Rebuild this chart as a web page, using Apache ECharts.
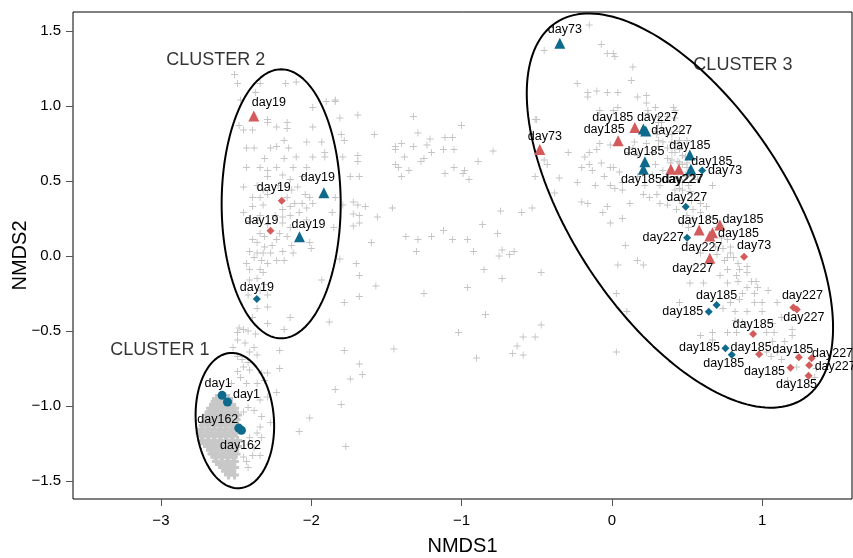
<!DOCTYPE html>
<html><head><meta charset="utf-8">
<script src="https://cdn.jsdelivr.net/npm/echarts@6/dist/echarts.min.js"></script>
<style>html,body{margin:0;padding:0;background:#fff}#c{width:853px;height:558px}</style>
</head><body><div id="c"></div>
<script>
const xTicks = [-3, -2, -1, 0, 1];
const yTicks = [-1.5, -1, -0.5, 0, 0.5, 1, 1.5];

// grey "+" background samples [NMDS1, NMDS2]
const greyPoints = [
[-1.84,1.04],[-1.81,0.92],[-1.69,0.94],[-1.80,0.81],[-1.78,0.77],[-1.58,0.81],[-1.32,0.93],[-1.29,0.82],[-1.44,0.73],[-1.40,0.75],[-1.44,0.71],[-1.38,0.66],[-1.32,0.73],[-1.23,0.74],[-1.21,0.78],[-1.11,0.79],[-1.06,0.79],[-1.00,0.87],[-1.20,0.69],[-1.25,0.65],[-1.27,0.63],[-1.12,0.71],[-1.05,0.71],[-0.79,0.70],[-0.89,0.63],[-1.44,0.61],[-1.42,0.59],[-1.35,0.57],[-1.40,0.53],[-1.05,0.59],[-1.11,0.55],[-0.99,0.55],[-0.98,0.57],[-0.95,0.51],[-1.69,0.67],[-1.69,0.63],[-1.79,0.66],[-1.74,0.53],[-1.68,0.53],[-1.84,0.39],[-1.72,0.36],[-1.64,0.33],[-1.46,0.32],[-1.72,0.28],[-1.68,0.27],[-1.56,0.26],[-1.68,0.22],[-1.72,0.20],[-1.85,0.19],[-1.86,0.29],[-0.74,0.30],[-0.60,0.29],[-0.53,0.32],[-0.86,0.21],[-0.76,0.15],[-1.12,0.17],[-1.37,0.13],[-1.29,0.11],[-1.20,0.13],[-1.06,0.11],[-0.96,0.11],[-1.60,0.09],[-1.30,0.03],[-0.92,0.03],[-0.73,0.04],[-0.75,0.00],[-0.68,0.01],[-0.65,0.03],[-0.85,-0.09],[-0.47,-0.11],[-0.73,-0.15],[-1.70,-0.05],[-1.68,-0.13],[-1.81,-0.02],[-1.57,-0.20],[-1.68,-0.27],[-1.25,-0.25],[-0.96,-0.21],[-1.78,-0.31],[-0.84,-0.39],[-0.47,-0.46],[-0.59,-0.54],[-0.51,-0.54],[-0.63,-0.60],[-0.66,-0.65],[-0.59,-0.66],[-1.02,-0.51],[-1.45,-0.62],[-1.78,-0.63],[-0.90,-0.68],[-0.51,0.91],[-0.50,0.91],[-0.45,0.64],
[-2.51,1.21],[-2.49,1.15],[-2.34,1.15],[-2.17,1.15],[-2.10,1.16],[-2.47,1.04],[-2.37,1.09],[-1.99,0.99],[-1.90,1.03],[-1.84,1.03],[-2.29,0.91],[-2.29,0.89],[-2.48,0.87],[-2.45,0.84],[-2.39,0.84],[-2.23,0.86],[-2.16,0.89],[-2.16,0.85],[-1.99,0.86],[-2.43,0.72],[-2.38,0.72],[-2.23,0.73],[-2.15,0.72],[-2.27,0.72],[-2.18,0.77],[-2.03,0.76],[-1.93,0.76],[-2.31,0.65],[-2.18,0.65],[-2.10,0.66],[-1.99,0.66],[-1.91,0.69],[-1.91,0.66],[-2.43,0.59],[-2.34,0.59],[-2.29,0.57],[-2.23,0.59],[-2.12,0.59],[-2.03,0.59],[-2.29,0.53],[-2.19,0.54],[-2.14,0.51],[-2.06,0.53],[-2.45,0.46],[-2.36,0.47],[-2.32,0.44],[-2.22,0.47],[-2.13,0.44],[-2.09,0.46],[-2.04,0.41],[-2.01,0.39],[-2.39,0.39],[-2.34,0.39],[-2.29,0.41],[-2.16,0.39],[-2.11,0.35],[-2.06,0.35],[-2.39,0.33],[-2.32,0.34],[-2.19,0.31],[-2.14,0.33],[-2.03,0.32],[-1.99,0.35],[-1.69,0.34],[-2.45,0.29],[-2.34,0.27],[-2.24,0.27],[-2.19,0.26],[-2.14,0.27],[-2.08,0.29],[-2.41,0.23],[-2.36,0.24],[-2.29,0.21],[-2.19,0.22],[-2.14,0.19],[-2.34,0.15],[-2.31,0.13],[-2.21,0.15],[-2.16,0.13],[-2.23,0.11],[-2.39,0.11],[-2.36,0.09],[-2.31,0.06],[-2.26,0.07],[-2.13,0.07],[-2.01,0.09],[-2.00,0.05],[-2.41,0.03],[-2.36,0.02],[-2.32,0.02],[-2.27,0.02],[-2.19,0.03],[-2.12,0.02],[-2.38,-0.01],[-2.33,-0.03],[-2.29,-0.05],[-2.23,-0.03],[-2.18,-0.03],[-2.43,-0.05],[-2.41,-0.09],[-2.34,-0.09],[-2.32,-0.11],[-2.36,-0.15],[-2.41,-0.16],[-2.31,-0.19],[-2.34,-0.23],[-2.42,-0.26],[-2.29,-0.26],[-2.29,-0.34],[-2.36,-0.35],[-2.39,-0.41],[-2.29,-0.45],[-2.14,-0.41],[-1.93,-0.16],[-2.48,-0.48],[-2.45,-0.49],[-2.42,-0.50],[-2.49,-0.51],[-2.37,-0.52],[-2.18,-0.49],[-1.88,-0.44],[-1.79,0.34],[-2.03,0.24],
[-2.52,-0.61],[-2.49,-0.56],[-2.44,-0.58],[-2.41,-0.64],[-2.38,-0.61],[-2.21,-0.63],[-2.49,-0.67],[-2.46,-0.69],[-2.42,-0.71],[-2.36,-0.66],[-2.45,-0.74],[-2.41,-0.76],[-2.33,-0.78],[-2.29,-0.78],[-2.21,-0.75],[-2.49,-0.77],[-2.47,-0.81],[-2.53,-0.85],[-2.43,-0.85],[-2.36,-0.85],[-2.31,-0.83],[-2.23,-0.91],[-2.29,-0.94],[-2.34,-0.96],[-2.38,-1.03],[-2.42,-1.01],[-2.45,-1.04],[-2.33,-1.07],[-2.27,-1.11],[-2.34,-1.14],[-2.36,-1.18],[-2.33,-1.21],[-2.41,-1.21],[-2.38,-1.28],[-2.39,-1.33],[-2.34,-1.33],[-2.45,-1.34],[-2.43,-1.37],[-2.42,-1.41],[-1.68,-0.72],[-1.66,-0.79],[-1.74,-0.82],[-1.84,-0.89],[-1.80,-0.99],[-2.01,-1.08],[-2.08,-1.17],[-1.77,-1.27],
[-0.15,1.54],[-0.45,1.37],[-0.07,1.41],[-0.03,1.35],[0.01,1.35],[0.02,1.33],[0.14,1.26],[0.13,1.17],[-0.23,1.15],[-0.16,1.09],[-0.10,1.10],[-0.03,1.09],[0.04,1.09],[-0.16,1.06],[0.17,1.06],[0.23,1.07],[0.23,1.02],[-0.08,0.97],[0.01,0.97],[0.04,0.99],[0.24,0.97],[0.41,0.99],[0.42,0.92],[0.31,0.89],[0.33,0.85],[0.30,0.81],[0.37,0.81],[0.45,0.83],[0.31,0.77],[0.40,0.76],[0.44,0.75],[0.50,0.77],[0.37,0.72],[0.42,0.69],[0.47,0.67],[0.37,0.65],[0.39,0.62],[0.45,0.62],[0.50,0.62],[0.34,0.57],[0.29,0.61],[0.15,0.76],[0.23,0.75],[0.14,0.72],[0.11,0.69],[0.17,0.67],[0.27,0.69],[-0.01,0.74],[-0.08,0.75],[-0.10,0.71],[-0.15,0.69],[-0.29,0.69],[-0.18,0.66],[-0.07,0.62],[-0.15,0.61],[-0.20,0.59],[-0.01,0.59],[-0.13,0.57],[-0.05,0.53],[-0.43,0.61],[-0.51,0.53],[-0.35,0.52],[-0.23,0.49],[-0.11,0.47],[-0.01,0.47],[0.07,0.49],[0.22,0.47],[0.32,0.47],[0.21,0.41],[0.30,0.41],[0.42,0.44],[0.45,0.45],[-0.38,0.42],[-0.20,0.36],[-0.16,0.35],[0.12,0.35],[0.32,0.35],
[0.29,0.99],[0.24,0.95],[0.42,0.97],[0.31,0.93],[0.37,0.93],[0.33,0.89],[0.29,0.83],[0.40,0.81],[0.34,0.76],[0.45,0.77],[0.31,0.73],[0.40,0.69],[0.45,0.71],[0.49,0.66],[0.40,0.64],[0.44,0.63],[0.47,0.61],[0.50,0.59],[0.01,0.59],[0.05,0.56],[0.02,0.45],[0.07,0.44],[0.17,0.53],[0.27,0.54],[0.44,0.52],[0.49,0.54],[0.54,0.54],[0.47,0.49],[0.51,0.47],[0.57,0.51],[0.67,0.47],[0.47,0.44],[0.52,0.43],[0.25,0.39],[0.37,0.34],[0.45,0.37],[0.53,0.37],[0.59,0.35],[0.63,0.33],[0.43,0.31],[0.54,0.31],[0.59,0.29],[0.50,0.27],[0.54,0.25],[0.65,0.26],[-0.03,0.33],[-0.06,0.29],[0.07,0.25],[0.47,0.22],[0.51,0.19],[0.70,0.19],[0.73,0.12],[0.77,0.11],[0.79,0.06],[0.74,0.05],[0.69,0.06],[0.59,0.02],[0.70,0.01],[0.79,0.02],[0.81,-0.01],[0.75,-0.03],[0.84,-0.05],[0.90,-0.07],[0.85,-0.09],[0.90,-0.11],[0.83,-0.13],[0.77,-0.09],[0.09,0.07],[0.17,-0.03],[0.21,-0.06],[0.52,-0.18],[0.72,-0.13],[0.96,-0.17],[1.04,-0.23],[0.87,-0.25],[0.95,-0.25],[0.03,-0.25],[-0.01,0.22],
[0.04,-0.06],[0.77,-0.01],[0.61,-0.18],[0.77,-0.18],[0.84,-0.17],[0.93,-0.17],[0.90,-0.21],[0.97,-0.21],[0.79,-0.31],[0.85,-0.29],[0.95,-0.31],[1.00,-0.31],[1.10,-0.31],[0.45,-0.31],[0.10,-0.37],[0.74,-0.35],[0.82,-0.37],[0.90,-0.37],[1.00,-0.37],[1.13,-0.41],[0.82,-0.43],[0.87,-0.44],[1.07,-0.45],[1.20,-0.49],[0.77,-0.51],[0.83,-0.51],[1.03,-0.51],[0.67,-0.51],[0.59,-0.53],[0.67,-0.56],[1.08,-0.51],[1.20,-0.53],[1.15,-0.57],[1.07,-0.57],[1.03,-0.64],[1.10,-0.64],[1.06,-0.67],[1.13,-0.69],[1.23,-0.74],[1.36,-0.75],[1.35,-0.81],[1.17,-0.83],[0.03,-0.64]
];

// dense day-1 / day-162 mass in cluster 1
const denseMass = [
[-2.63,-0.95],[-2.59,-0.95],[-2.55,-0.95],
[-2.65,-0.99],[-2.61,-0.99],[-2.57,-0.99],[-2.53,-0.99],
[-2.68,-1.04],[-2.64,-1.04],[-2.60,-1.04],[-2.56,-1.04],[-2.52,-1.04],
[-2.70,-1.09],[-2.66,-1.09],[-2.62,-1.09],[-2.58,-1.09],[-2.54,-1.09],[-2.50,-1.09],
[-2.72,-1.13],[-2.68,-1.13],[-2.64,-1.13],[-2.60,-1.13],[-2.56,-1.13],[-2.52,-1.13],
[-2.74,-1.18],[-2.70,-1.18],[-2.66,-1.18],[-2.62,-1.18],[-2.58,-1.18],[-2.54,-1.18],[-2.50,-1.18],
[-2.73,-1.23],[-2.69,-1.23],[-2.65,-1.23],[-2.61,-1.23],[-2.57,-1.23],[-2.53,-1.23],[-2.49,-1.23],
[-2.69,-1.27],[-2.65,-1.27],[-2.61,-1.27],[-2.57,-1.27],[-2.53,-1.27],[-2.49,-1.27],
[-2.66,-1.32],[-2.62,-1.32],[-2.58,-1.32],[-2.54,-1.32],[-2.50,-1.32],
[-2.63,-1.37],[-2.59,-1.37],[-2.55,-1.37],[-2.51,-1.37],
[-2.59,-1.41],[-2.55,-1.41],[-2.51,-1.41],
[-2.55,-1.46],[-2.51,-1.46],
[-2.64,-0.97],[-2.60,-0.97],[-2.56,-0.97],
[-2.67,-1.015],[-2.63,-1.015],[-2.59,-1.015],[-2.55,-1.015],[-2.51,-1.015],
[-2.69,-1.06],[-2.65,-1.06],[-2.61,-1.06],[-2.57,-1.06],[-2.53,-1.06],[-2.49,-1.06],
[-2.71,-1.11],[-2.67,-1.11],[-2.63,-1.11],[-2.59,-1.11],[-2.55,-1.11],[-2.51,-1.11],
[-2.73,-1.155],[-2.69,-1.155],[-2.65,-1.155],[-2.61,-1.155],[-2.57,-1.155],[-2.53,-1.155],[-2.49,-1.155],
[-2.72,-1.20],[-2.68,-1.20],[-2.64,-1.20],[-2.60,-1.20],[-2.56,-1.20],[-2.52,-1.20],
[-2.71,-1.25],[-2.67,-1.25],[-2.63,-1.25],[-2.59,-1.25],[-2.55,-1.25],[-2.51,-1.25],
[-2.67,-1.295],[-2.63,-1.295],[-2.59,-1.295],[-2.55,-1.295],[-2.51,-1.295],
[-2.64,-1.34],[-2.60,-1.34],[-2.56,-1.34],[-2.52,-1.34],
[-2.61,-1.39],[-2.57,-1.39],[-2.53,-1.39],
[-2.57,-1.435],[-2.53,-1.435]
];

// highlighted samples: [NMDS1, NMDS2, label]
const blueCircles = [[-2.593,-0.929,'day1'],[-2.557,-0.973,'day1'],[-2.482,-1.147,'day162'],[-2.464,-1.162,'day162']];
const redTriangles = [[-2.382,0.933,'day19'],[-0.479,0.711,'day73'],[0.153,0.857,'day185'],[0.042,0.769,'day185'],[0.393,0.578,'day227'],[0.446,0.578,'day227'],[0.581,0.173,'day185'],[0.719,0.207,'day185'],[0.670,0.155,'day185'],[0.652,0.133,'day227'],[0.652,-0.015,'day227']];
const blueTriangles = [[-1.916,0.422,'day19'],[-2.078,0.129,'day19'],[-0.346,1.418,'day73'],[0.210,0.847,'day227'],[0.226,0.833,'day227'],[0.220,0.629,'day185'],[0.210,0.578,'day185'],[0.519,0.673,'day185'],[0.526,0.578,'day185']];
const redDiamonds = [[-2.196,0.369,'day19'],[-2.271,0.169,'day19'],[0.880,-0.005,'day73'],[1.208,-0.343,'day227'],[1.231,-0.357,'day227'],[0.940,-0.520,'day185'],[0.980,-0.655,'day185'],[1.244,-0.675,'day185'],[1.329,-0.682,'day227'],[1.313,-0.729,'day227'],[1.189,-0.745,'day185'],[1.309,-0.798,'day185']];
const blueDiamonds = [[-2.362,-0.287,'day19'],[0.601,0.571,'day73'],[0.492,0.329,'day227'],[0.501,0.122,'day227'],[0.697,-0.327,'day185'],[0.645,-0.371,'day185'],[0.756,-0.615,'day185'],[0.798,-0.658,'day185']];

// label placement (pixel offsets from marker centre)
const blueCircleOff = [[-4,-12],[19,-7],[-21,-9],[-1,15]];
const redTriOff = [[15,-14],[5,-13],[-22,-10],[-14,-11],[11,10],[4,10],[-1,-10],[23,-5],[26,1],[-8,11],[-17,10]];
const blueTriOff = [[-6,-15],[9,-12],[5,-14],[14,-11],[26,-1],[-1,-10],[-2,10],[0,-10],[21,-8]];
const redDiaOff = [[-8,-13],[-9,-10],[10,-11],[9,-12],[7,8],[0,-9],[-8,-7],[-6,-8],[21,-5],[26,1],[-26,4],[-12,9]];
const blueDiaOff = [[0,-12],[23,0],[1,-9],[-24,0],[0,-10],[-26,0],[-26,-1],[-8,9]];

// cluster ellipses
const ellipseCX = [-2.508, -2.200, 0.453];
const ellipseCY = [-1.097, 0.348, 0.303];
const ellipseRX = [0.26, 0.396, 1.50];
const ellipseRY = [0.452, 0.897, 0.718];
const ellipseAngle = [4, 0, -56.7];

const clusterNames = ['CLUSTER 1', 'CLUSTER 2', 'CLUSTER 3'];
const clusterLabelX = [-3.007, -2.635, 0.872];
const clusterLabelY = [-0.627, 1.307, 1.273];

const RED = '#D45B5B', BLUE = '#0E6A8C', GREY = '#c4c4c4';
const FONT = 'Liberation Sans, Arial, sans-serif';
const minus = s => String(s).replace('-', '\u2212');

function ellipsePts(i) {
  const pts = [];
  const phi = ellipseAngle[i] * Math.PI / 180;
  for (let k = 0; k <= 180; k++) {
    const t = k / 180 * 2 * Math.PI;
    const ex = ellipseRX[i] * Math.cos(t), ey = ellipseRY[i] * Math.sin(t);
    pts.push([ellipseCX[i] + ex * Math.cos(phi) - ey * Math.sin(phi),
              ellipseCY[i] + ex * Math.sin(phi) + ey * Math.cos(phi)]);
  }
  return pts;
}

function markerSeries(arr, offs, symbol, size, color) {
  return {
    type: 'scatter', symbol: symbol, symbolSize: size, z: 5,
    itemStyle: { color: color, opacity: 1 },
    label: { show: true, position: 'inside', color: '#000', fontSize: 12.5, fontFamily: FONT,
             textBorderWidth: 0, formatter: p => p.data.name },
    emphasis: { disabled: true },
    data: arr.map((d, i) => ({ value: [d[0], d[1]], name: d[2], label: { offset: offs[i] } }))
  };
}

const plusPath = 'path://M-1,-0.13H1V0.13H-1Z M-0.13,-1H0.13V1H-0.13Z';
const plusPathBold = 'path://M-1,-0.35H1V0.35H-1Z M-0.35,-1H0.35V1H-0.35Z';

const chart = echarts.init(document.getElementById('c'), null, { renderer: 'canvas' });
const series = [
  { type: 'scatter', symbol: plusPath, symbolSize: 7, silent: true, z: 1,
    itemStyle: { color: GREY, opacity: 1 }, data: greyPoints },
  { type: 'scatter', symbol: plusPathBold, symbolSize: 9, silent: true, z: 1,
    itemStyle: { color: '#c8c8c8', opacity: 1 }, data: denseMass }
];
for (let i = 0; i < 3; i++) {
  series.push({ type: 'line', data: ellipsePts(i), showSymbol: false, symbol: 'none', silent: true, z: 3,
    lineStyle: { color: '#000', width: 2 }, clip: false });
}
series.push(markerSeries(blueCircles, blueCircleOff, 'circle', 9, BLUE));
series.push(markerSeries(redTriangles, redTriOff, 'triangle', 11, RED));
series.push(markerSeries(blueTriangles, blueTriOff, 'triangle', 11, BLUE));
series.push(markerSeries(redDiamonds, redDiaOff, 'diamond', 8, RED));
series.push(markerSeries(blueDiamonds, blueDiaOff, 'diamond', 8, BLUE));
series.push({ type: 'scatter', symbolSize: 0, silent: true, z: 6,
  label: { show: true, position: 'inside', color: '#000', fontSize: 18, fontFamily: FONT,
           textBorderWidth: 0, formatter: p => p.data.name },
  data: clusterNames.map((n, i) => ({ value: [clusterLabelX[i], clusterLabelY[i]], name: n })) });

chart.setOption({
  animation: false,
  backgroundColor: '#fff',
  grid: { left: 73, right: 1, top: 12, bottom: 59, show: true, borderColor: '#000', borderWidth: 1,
          containLabel: false, outerBoundsMode: 'none' },
  xAxis: {
    type: 'value', min: -3.585, max: 1.598, position: 'bottom',
    name: 'NMDS1', nameLocation: 'middle', nameGap: 37, nameMoveOverlap: false,
    nameTextStyle: { fontSize: 20, color: '#000', fontFamily: FONT },
    axisLine: { show: false, onZero: false },
    axisTick: { show: true, inside: false, length: 7, customValues: xTicks, lineStyle: { color: '#555' } },
    axisLabel: { customValues: xTicks, margin: 14, fontSize: 15, color: '#000', fontFamily: FONT,
                 formatter: v => minus(v) },
    splitLine: { show: false }
  },
  yAxis: {
    type: 'value', min: -1.62, max: 1.627, position: 'left',
    name: 'NMDS2', nameLocation: 'middle', nameGap: 43, nameRotate: 90, nameMoveOverlap: false,
    nameTextStyle: { fontSize: 20, color: '#000', fontFamily: FONT },
    axisLine: { show: false, onZero: false },
    axisTick: { show: true, inside: false, length: 7, customValues: yTicks, lineStyle: { color: '#555' } },
    axisLabel: { customValues: yTicks, margin: 12, fontSize: 15, color: '#000', fontFamily: FONT,
                 formatter: v => minus(v.toFixed(1)) },
    splitLine: { show: false }
  },
  series: series
});
</script></body></html>
